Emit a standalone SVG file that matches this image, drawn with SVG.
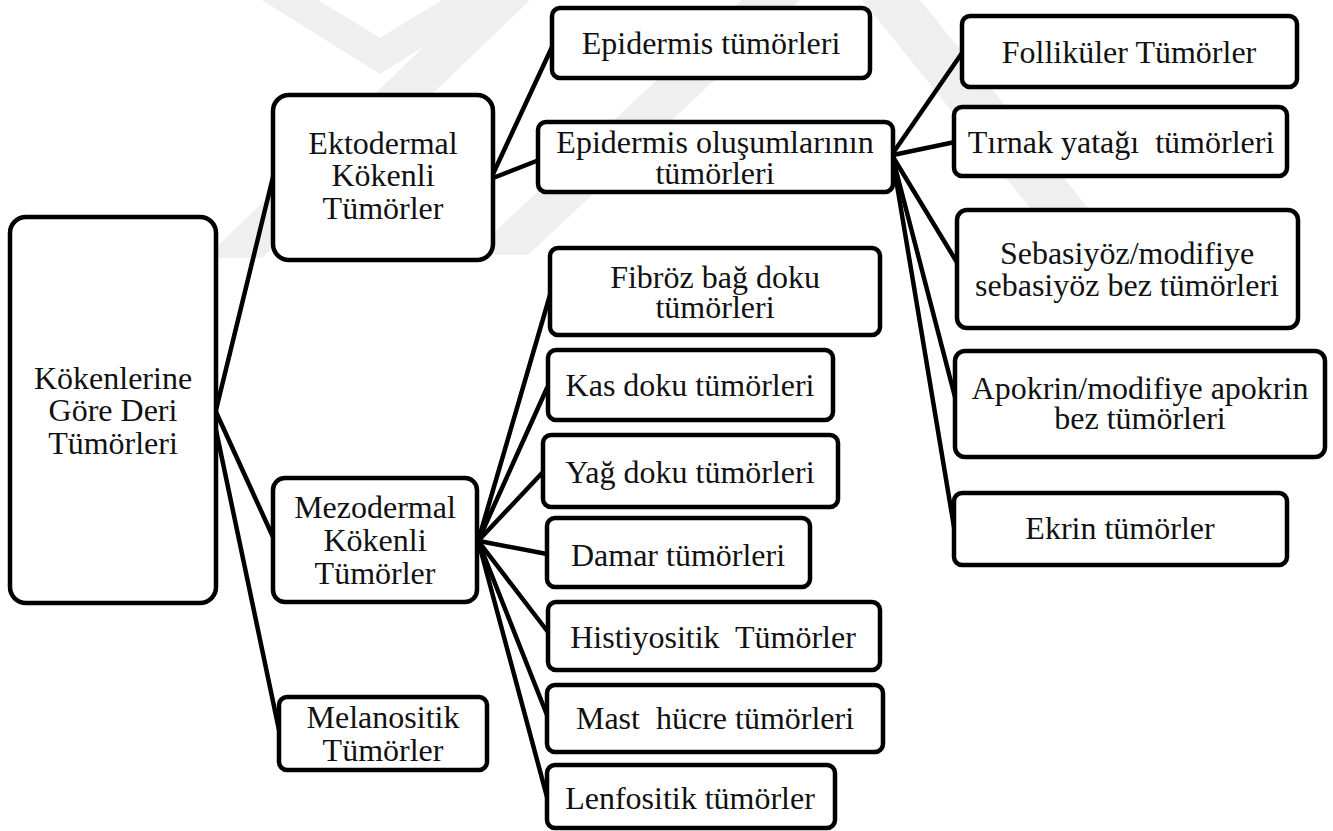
<svg xmlns="http://www.w3.org/2000/svg" width="1333" height="831" viewBox="0 0 1333 831">
<style>
.box{fill:#fff;stroke:#000;stroke-width:4.5}
.wm{fill:#efefef}
text{font-family:"Liberation Serif","Times New Roman",serif;font-size:32px;fill:#111;text-anchor:middle}
#connectors line{stroke:#000;stroke-width:4.5;stroke-linecap:round}
</style>
<rect width="1333" height="831" fill="#fff"/>
<g id="watermark">
<polygon class="wm" points="262,0 318,0 380,38 442,0 498,0 380,74"/>
<polygon class="wm" points="205,258 262,258 530,0 472,0"/>
<polygon class="wm" points="470,255 528,255 800,0 742,0"/>
<polygon class="wm" points="862,0 920,0 1110,235 1052,235"/>
</g>
<g id="connectors">
<line x1="216" y1="410" x2="273" y2="177"/>
<line x1="216" y1="412" x2="273" y2="537"/>
<line x1="216" y1="430" x2="279" y2="730"/>
<line x1="493" y1="174" x2="552" y2="47"/>
<line x1="493" y1="178" x2="539" y2="160"/>
<line x1="893" y1="153" x2="962" y2="53"/>
<line x1="893" y1="155" x2="955" y2="142"/>
<line x1="893" y1="157" x2="958" y2="264"/>
<line x1="893" y1="159" x2="955" y2="397"/>
<line x1="893" y1="161" x2="954" y2="527"/>
<line x1="479" y1="538" x2="550" y2="295"/>
<line x1="479" y1="539" x2="547" y2="388"/>
<line x1="479" y1="540" x2="543" y2="472"/>
<line x1="479" y1="541" x2="547" y2="554"/>
<line x1="479" y1="542" x2="548" y2="632"/>
<line x1="479" y1="543" x2="547" y2="715"/>
<line x1="479" y1="544" x2="547" y2="797"/>
</g>
<g id="root"><rect class="box" x="10" y="217" width="206" height="386" rx="16"/><text x="113" y="389">Kökenlerine</text><text x="113" y="421">Göre Deri</text><text x="113" y="454">Tümörleri</text></g>
<g id="ektodermal"><rect class="box" x="273" y="95" width="220" height="165" rx="16"/><text x="383" y="154">Ektodermal</text><text x="383" y="186">Kökenli</text><text x="383" y="219">Tümörler</text></g>
<g id="mezodermal"><rect class="box" x="273" y="478" width="204" height="124" rx="12"/><text x="375" y="518">Mezodermal</text><text x="375" y="551">Kökenli</text><text x="375" y="584">Tümörler</text></g>
<g id="melanositik"><rect class="box" x="279" y="697" width="208" height="73" rx="8"/><text x="383" y="728">Melanositik</text><text x="383" y="761">Tümörler</text></g>
<g id="epidermis"><rect class="box" x="552" y="8" width="318" height="70" rx="8"/><text x="711" y="54">Epidermis tümörleri</text></g>
<g id="epidermis-olusum"><rect class="box" x="538" y="122" width="355" height="70" rx="8"/><text x="715" y="153">Epidermis oluşumlarının</text><text x="715" y="184">tümörleri</text></g>
<g id="fibroz"><rect class="box" x="550" y="248" width="330" height="87" rx="8"/><text x="715" y="288">Fibröz bağ doku</text><text x="715" y="318">tümörleri</text></g>
<g id="kas"><rect class="box" x="548" y="350" width="285" height="70" rx="8"/><text x="690" y="396">Kas doku tümörleri</text></g>
<g id="yag"><rect class="box" x="543" y="435" width="295" height="72" rx="8"/><text x="690" y="483">Yağ doku tümörleri</text></g>
<g id="damar"><rect class="box" x="547" y="518" width="263" height="69" rx="8"/><text x="678" y="566">Damar tümörleri</text></g>
<g id="histiyositik"><rect class="box" x="548" y="602" width="332" height="68" rx="8"/><text x="713" y="648" xml:space="preserve">Histiyositik  Tümörler</text></g>
<g id="mast"><rect class="box" x="547" y="685" width="336" height="67" rx="8"/><text x="715" y="729" xml:space="preserve">Mast  hücre tümörleri</text></g>
<g id="lenfositik"><rect class="box" x="547" y="765" width="288" height="63" rx="8"/><text x="690" y="809">Lenfositik tümörler</text></g>
<g id="folikuler"><rect class="box" x="962" y="16" width="335" height="71" rx="8"/><text x="1129" y="63">Folliküler Tümörler</text></g>
<g id="tirnak"><rect class="box" x="954" y="107" width="333" height="69" rx="8"/><text x="1121" y="153" xml:space="preserve">Tırnak yatağı  tümörleri</text></g>
<g id="sebasiyoz"><rect class="box" x="957" y="210" width="341" height="118" rx="10"/><text x="1127" y="264">Sebasiyöz/modifiye</text><text x="1127" y="296">sebasiyöz bez tümörleri</text></g>
<g id="apokrin"><rect class="box" x="955" y="351" width="370" height="106" rx="10"/><text x="1140" y="399">Apokrin/modifiye apokrin</text><text x="1140" y="429">bez tümörleri</text></g>
<g id="ekrin"><rect class="box" x="954" y="493" width="333" height="72" rx="8"/><text x="1120" y="539">Ekrin tümörler</text></g>
</svg>
